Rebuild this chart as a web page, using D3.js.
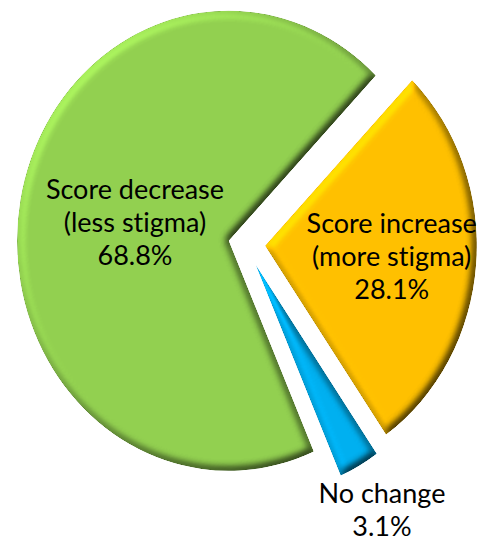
<!DOCTYPE html>
<html>
<head>
<meta charset="utf-8">
<script src="https://cdn.jsdelivr.net/npm/d3@7/dist/d3.min.js"></script>
<style>
  html, body { margin: 0; padding: 0; background: #fff; }
  svg { display: block; }
  text { font-family: Lato, "Open Sans", sans-serif; fill: #000; font-variant-ligatures: none; }
</style>
</head>
<body>
<svg id="chart" width="491" height="544"></svg>
<script>
// Stigma score change between the two surveys (share of respondents)
const categories = ["Score increase", "No change", "Score decrease"];
const subtitles  = ["(more stigma)", "", "(less stigma)"];
const values     = [28.1, 3.1, 68.8];
const colors     = ["#FFC000", "#00B0F0", "#92D050"];

const W = 491, H = 544;
const cx = 245, cy = 244;         // pie centre
const R = 230;                    // radius (vertical)
const sx = 0.92;                  // horizontal squeeze of the pie
const startDeg = 44;              // first slice starts here, clockwise from 12 o'clock
const explode = [22, 24, 18];     // pull-out distance of each slice
const labelR = [0.6, 1.22, 0.45]; // label distance as a fraction of the radius
const fontPx = 27, lineH = 33;

const svg = d3.select("#chart");
const defs = svg.append("defs");

// bevel: height map from the blurred shape, lit from the upper left
const elev = 55;
const f = defs.append("filter")
  .attr("id", "bevel")
  .attr("filterUnits", "userSpaceOnUse")
  .attr("x", 0).attr("y", 0).attr("width", W).attr("height", H)
  .attr("color-interpolation-filters", "sRGB");
f.append("feGaussianBlur").attr("in", "SourceAlpha").attr("stdDeviation", 4.5).attr("result", "blur");
const dl = f.append("feDiffuseLighting")
  .attr("in", "blur").attr("surfaceScale", 6).attr("diffuseConstant", 1)
  .attr("lighting-color", "#fff").attr("result", "light");
dl.append("feDistantLight").attr("azimuth", 225).attr("elevation", elev);
f.append("feComposite").attr("in", "light").attr("in2", "SourceAlpha").attr("operator", "in").attr("result", "lightIn");
f.append("feComposite").attr("in", "SourceGraphic").attr("in2", "lightIn")
  .attr("operator", "arithmetic").attr("k1", 0.75 / Math.sin(elev * Math.PI / 180))
  .attr("k2", 0.25).attr("k3", 0).attr("k4", 0);

const rows = categories.map((c, i) => ({ name: c, sub: subtitles[i], value: values[i], color: colors[i], i }));

const start = startDeg * Math.PI / 180;
const pie = d3.pie().sort(null).value(d => d.value).startAngle(start).endAngle(start + 2 * Math.PI);
const arc = d3.arc().innerRadius(0).outerRadius(R);
const arcs = pie(rows);

const offset = a => {
  const m = (a.startAngle + a.endAngle) / 2;
  const e = explode[a.data.i];
  return [e * Math.sin(m), -e * Math.cos(m)];
};

svg.append("g").selectAll("g")
  .data(arcs)
  .join("g")
  .attr("filter", "url(#bevel)")
  .append("path")
  .attr("transform", a => {
    const [ox, oy] = offset(a);
    return `translate(${cx},${cy}) scale(${sx},1) translate(${ox},${oy})`;
  })
  .attr("d", arc)
  .attr("fill", a => a.data.color);

const pct = d3.format(".1f");
svg.append("g").selectAll("text")
  .data(arcs)
  .join("text")
  .attr("text-anchor", "middle")
  .style("font-size", fontPx + "px")
  .each(function (a) {
    const m = (a.startAngle + a.endAngle) / 2;
    const [ox, oy] = offset(a);
    const r = R * labelR[a.data.i];
    const x = cx + sx * (ox + r * Math.sin(m));
    const y = cy + oy - r * Math.cos(m);
    const lines = [a.data.name];
    if (a.data.sub) lines.push(a.data.sub);
    lines.push(pct(a.data.value) + "%");
    const t = d3.select(this);
    lines.forEach((s, k) => {
      t.append("tspan")
        .attr("x", x)
        .attr("y", y + (k - (lines.length - 1) / 2) * lineH + fontPx * 0.36)
        .text(s);
    });
  });
</script>
</body>
</html>
